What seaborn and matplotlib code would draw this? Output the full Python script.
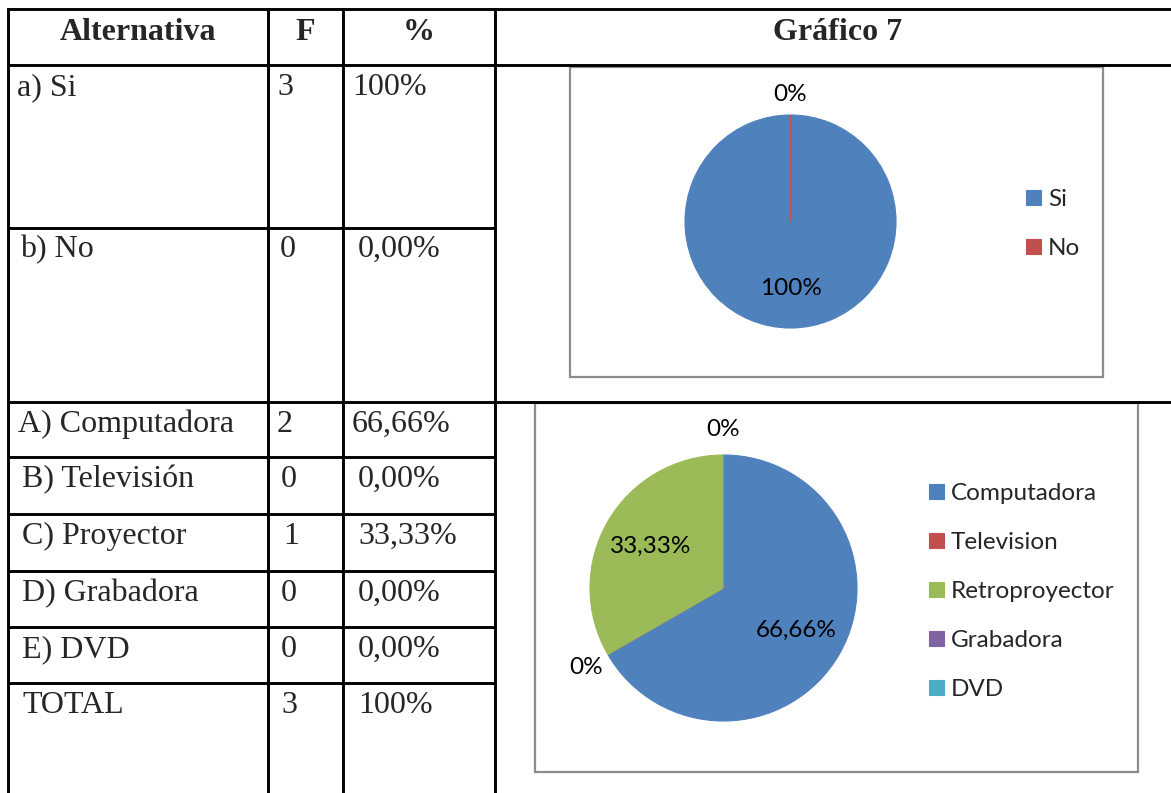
import numpy as np
import matplotlib
matplotlib.use("Agg")
import matplotlib.pyplot as plt
from matplotlib.patches import Rectangle
import seaborn as sns

# datos de la tabla
alternativas_1 = ["a) Si", "b) No"]
frec_1 = ["3", "0"]
porc_1 = ["100%", "0,00%"]

alternativas_2 = ["A) Computadora", "B) Televisión", "C) Proyector",
                  "D) Grabadora", "E) DVD", "TOTAL"]
frec_2 = ["2", "0", "1", "0", "0", "3"]
porc_2 = ["66,66%", "0,00%", "33,33%", "0,00%", "0,00%", "100%"]

# datos de los graficos
cat_g1 = ["Si", "No"]
val_g1 = [3, 0]
pct_g1 = [100, 0]

cat_g2 = ["Computadora", "Television", "Retroproyector", "Grabadora", "DVD"]
val_g2 = [2, 0, 1, 0, 0]
pct_g2 = [66.66, 0, 33.33, 0, 0]

W, H = 1171, 793
sns.set_theme(style="white")
plt.rcParams["font.family"] = ["Lato", "DejaVu Sans"]
colores = ["#4F81BD", "#C0504D", "#9BBB59", "#8064A2", "#4BACC6"]
pal = sns.color_palette(colores)

fig = plt.figure(figsize=(W / 100, H / 100), dpi=100)
fig.patch.set_facecolor("white")

# capa de la tabla en pixeles
tab = fig.add_axes([0, 0, 1, 1])
tab.set_xlim(0, W)
tab.set_ylim(H, 0)
tab.axis("off")

lw = 2.1
for y in [9, 65, 402]:
    tab.plot([8, W], [y, y], color="black", lw=lw, solid_capstyle="projecting")
for y in [228, 457, 514, 571, 627, 683]:
    tab.plot([8, 495], [y, y], color="black", lw=lw)
for x in [8, 268, 343, 495]:
    tab.plot([x, x], [9, H], color="black", lw=lw, solid_capstyle="projecting")

serif = ["Liberation Serif", "DejaVu Serif"]
fs = 23
tab.text(138, 40, "Alternativa", ha="center", va="baseline", fontsize=fs,
         fontweight="bold", family=serif)
tab.text(305, 40, "F", ha="center", va="baseline", fontsize=fs,
         fontweight="bold", family=serif)
tab.text(419, 40, "%", ha="center", va="baseline", fontsize=fs,
         fontweight="bold", family=serif)
tab.text(838, 40, "Gráfico 7", ha="center", va="baseline", fontsize=fs,
         fontweight="bold", family=serif)

base_1 = [95, 257]
for i, (a, f, p) in enumerate(zip(alternativas_1, frec_1, porc_1)):
    dx = 0 if i == 0 else 3
    tab.text(17 + dx, base_1[i], a, fontsize=fs, family=serif, va="baseline")
    tab.text(277 + dx, base_1[i], f, fontsize=fs, family=serif, va="baseline")
    tab.text(352 + 2 * dx, base_1[i], p, fontsize=fs, family=serif, va="baseline")

base_2 = [432, 487, 544, 601, 657, 713]
for i, (a, f, p) in enumerate(zip(alternativas_2, frec_2, porc_2)):
    dx = 0 if i == 0 else 4
    tab.text(18 + dx, base_2[i], a, fontsize=fs, family=serif, va="baseline")
    fx = 283 if f == "1" else 277 + dx
    tab.text(fx, base_2[i], f, fontsize=fs, family=serif, va="baseline")
    tab.text(352 + (6 if i else 0), base_2[i], p, fontsize=fs, family=serif,
             va="baseline")

# marcos de los graficos
tab.add_patch(Rectangle((570, 67), 533, 310, fill=False, ec="#8C8C8C", lw=1.6))
tab.add_patch(Rectangle((535, 403), 603, 369, fill=False, ec="#8C8C8C", lw=1.6))


def fmt(v):
    if v == int(v):
        return "%d%%" % v
    return ("%.2f" % v).replace(".", ",") + "%"


def pastel(box, valores, pcts, cats, leg_xy, fsz=17.5):
    x0, y0, x1, y1 = box
    ax = fig.add_axes([x0 / W, 1 - y1 / H, (x1 - x0) / W, (y1 - y0) / H])
    wedges, _ = ax.pie(valores, colors=pal[:len(valores)], startangle=90,
                       counterclock=False, normalize=True,
                       wedgeprops=dict(linewidth=0.8))
    for w, c in zip(wedges, pal):
        w.set_edgecolor(c)
    ax.set_xlim(-1, 1)
    ax.set_ylim(-1, 1)
    ax.set_aspect("auto")
    ax.axis("off")
    hechos = []
    for w, v in zip(wedges, pcts):
        mid = round((w.theta1 + w.theta2) / 2, 3)
        if (mid, v) in hechos:
            continue
        hechos.append((mid, v))
        d = 0.63 if v > 0 else 1.19
        r = np.deg2rad(mid)
        ax.text(d * np.cos(r), d * np.sin(r), fmt(v), ha="center",
                va="center", fontsize=fsz, color="black", clip_on=False)
    ax.legend(wedges, cats, loc="upper left", frameon=False,
              bbox_to_anchor=(leg_xy[0] / W, 1 - leg_xy[1] / H),
              bbox_transform=fig.transFigure, fontsize=fsz,
              handlelength=0.6, handleheight=0.6, handletextpad=0.3,
              labelspacing=1.15, borderpad=0, borderaxespad=0)
    return ax


pastel((685, 115, 896, 328), val_g1, pct_g1, cat_g1, (1026, 189))
pastel((590, 455, 857, 721), val_g2, pct_g2, cat_g2, (929, 483))

plt.savefig("out.png", dpi=100, facecolor="white")
